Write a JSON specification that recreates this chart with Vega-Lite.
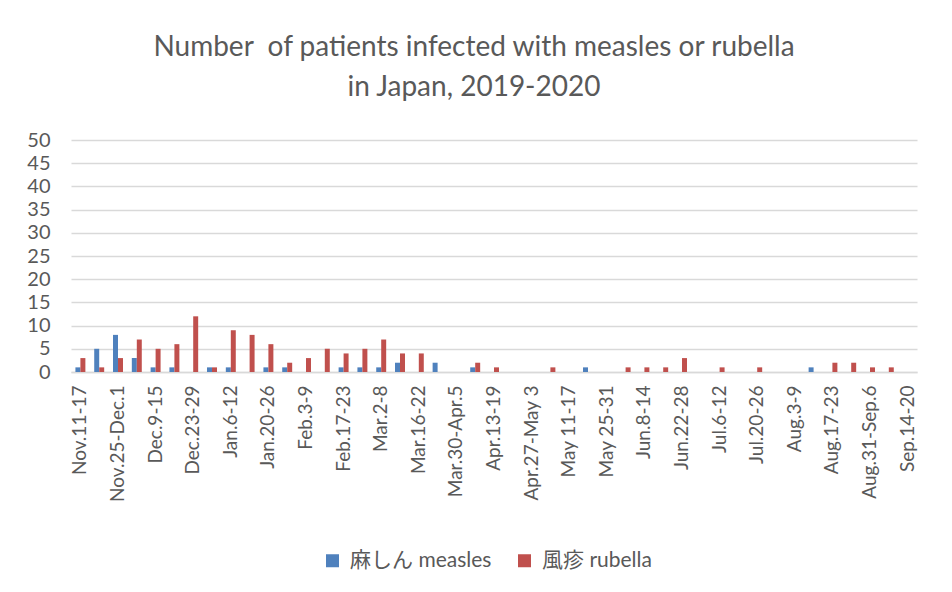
{
  "$schema": "https://vega.github.io/schema/vega-lite/v6.json",
  "autosize": {"type": "none"},
  "padding": {"left": 71, "top": 140, "right": 35, "bottom": 220},
  "width": 846,
  "height": 232,
  "background": "white",
  "title": {
    "text": ["Number\u00a0 of patients infected with measles or rubella", "in Japan, 2019-2020"],
    "font": "Lato",
    "fontSize": 28,
    "fontWeight": "normal",
    "color": "#595959",
    "lineHeight": 40,
    "anchor": "middle",
    "dx": -20,
    "offset": 28
  },
  "data": {
    "values": [
      {"week": "Nov.11-17", "measles": 1, "rubella": 3},
      {"week": "Nov.18-24", "measles": 5, "rubella": 1},
      {"week": "Nov.25-Dec.1", "measles": 8, "rubella": 3},
      {"week": "Dec.2-8", "measles": 3, "rubella": 7},
      {"week": "Dec.9-15", "measles": 1, "rubella": 5},
      {"week": "Dec.16-22", "measles": 1, "rubella": 6},
      {"week": "Dec.23-29", "measles": 0, "rubella": 12},
      {"week": "Dec.30-Jan.5", "measles": 1, "rubella": 1},
      {"week": "Jan.6-12", "measles": 1, "rubella": 9},
      {"week": "Jan.13-19", "measles": 0, "rubella": 8},
      {"week": "Jan.20-26", "measles": 1, "rubella": 6},
      {"week": "Jan.27-Feb.2", "measles": 1, "rubella": 2},
      {"week": "Feb.3-9", "measles": 0, "rubella": 3},
      {"week": "Feb.10-16", "measles": 0, "rubella": 5},
      {"week": "Feb.17-23", "measles": 1, "rubella": 4},
      {"week": "Feb.24-Mar.1", "measles": 1, "rubella": 5},
      {"week": "Mar.2-8", "measles": 1, "rubella": 7},
      {"week": "Mar.9-15", "measles": 2, "rubella": 4},
      {"week": "Mar.16-22", "measles": 0, "rubella": 4},
      {"week": "Mar.23-29", "measles": 2, "rubella": 0},
      {"week": "Mar.30-Apr.5", "measles": 0, "rubella": 0},
      {"week": "Apr.6-12", "measles": 1, "rubella": 2},
      {"week": "Apr.13-19", "measles": 0, "rubella": 1},
      {"week": "Apr.20-26", "measles": 0, "rubella": 0},
      {"week": "Apr.27-May 3", "measles": 0, "rubella": 0},
      {"week": "May 4-10", "measles": 0, "rubella": 1},
      {"week": "May 11-17", "measles": 0, "rubella": 0},
      {"week": "May 18-24", "measles": 1, "rubella": 0},
      {"week": "May 25-31", "measles": 0, "rubella": 0},
      {"week": "Jun.1-7", "measles": 0, "rubella": 1},
      {"week": "Jun.8-14", "measles": 0, "rubella": 1},
      {"week": "Jun.15-21", "measles": 0, "rubella": 1},
      {"week": "Jun.22-28", "measles": 0, "rubella": 3},
      {"week": "Jun.29-Jul.5", "measles": 0, "rubella": 0},
      {"week": "Jul.6-12", "measles": 0, "rubella": 1},
      {"week": "Jul.13-19", "measles": 0, "rubella": 0},
      {"week": "Jul.20-26", "measles": 0, "rubella": 1},
      {"week": "Jul.27-Aug.2", "measles": 0, "rubella": 0},
      {"week": "Aug.3-9", "measles": 0, "rubella": 0},
      {"week": "Aug.10-16", "measles": 1, "rubella": 0},
      {"week": "Aug.17-23", "measles": 0, "rubella": 2},
      {"week": "Aug.24-30", "measles": 0, "rubella": 2},
      {"week": "Aug.31-Sep.6", "measles": 0, "rubella": 1},
      {"week": "Sep.7-13", "measles": 0, "rubella": 1},
      {"week": "Sep.14-20", "measles": 0, "rubella": 0}
    ]
  },
  "transform": [
    {"fold": ["measles", "rubella"], "as": ["disease", "count"]}
  ],
  "mark": {"type": "bar"},
  "encoding": {
    "x": {
      "field": "week",
      "type": "nominal",
      "sort": null,
      "scale": {"paddingInner": 0.47, "paddingOuter": 0.235},
      "axis": {
        "title": null,
        "values": ["Nov.11-17", "Nov.25-Dec.1", "Dec.9-15", "Dec.23-29", "Jan.6-12", "Jan.20-26", "Feb.3-9", "Feb.17-23", "Mar.2-8", "Mar.16-22", "Mar.30-Apr.5", "Apr.13-19", "Apr.27-May 3", "May 11-17", "May 25-31", "Jun.8-14", "Jun.22-28", "Jul.6-12", "Jul.20-26", "Aug.3-9", "Aug.17-23", "Aug.31-Sep.6", "Sep.14-20"],
        "labelAngle": -90,
        "labelFont": "Lato",
        "labelFontSize": 19,
        "labelColor": "#595959",
        "labelPadding": 13,
        "ticks": false,
        "domainColor": "#D9D9D9",
        "domainWidth": 1.5,
        "grid": false,
        "labelOverlap": false
      }
    },
    "xOffset": {
      "field": "disease",
      "type": "nominal",
      "scale": {"domain": ["measles", "rubella"], "paddingInner": 0, "paddingOuter": 0}
    },
    "y": {
      "field": "count",
      "type": "quantitative",
      "scale": {"domain": [0, 50], "nice": false},
      "axis": {
        "title": null,
        "values": [0, 5, 10, 15, 20, 25, 30, 35, 40, 45, 50],
        "labelFont": "Lato",
        "labelFontSize": 20,
        "labelColor": "#595959",
        "labelPadding": 21,
        "ticks": false,
        "domain": false,
        "gridColor": "#D9D9D9",
        "gridWidth": 1.5
      }
    },
    "color": {
      "field": "disease",
      "type": "nominal",
      "scale": {"domain": ["measles", "rubella"], "range": ["#4F81BD", "#C0504D"]},
      "legend": {
        "title": null,
        "orient": "none",
        "direction": "horizontal",
        "legendX": 251,
        "legendY": 410,
        "symbolType": "square",
        "symbolSize": 169,
        "symbolStrokeWidth": 0,
        "labelFont": "Lato, Noto Sans CJK JP",
        "labelFontSize": 21,
        "labelColor": "#595959",
        "labelOffset": 7,
        "columnPadding": 22,
        "labelLimit": 300,
        "labelExpr": "datum.label == 'measles' ? '麻しん measles' : '風疹 rubella'"
      }
    }
  },
  "config": {
    "view": {"stroke": null}
  }
}
